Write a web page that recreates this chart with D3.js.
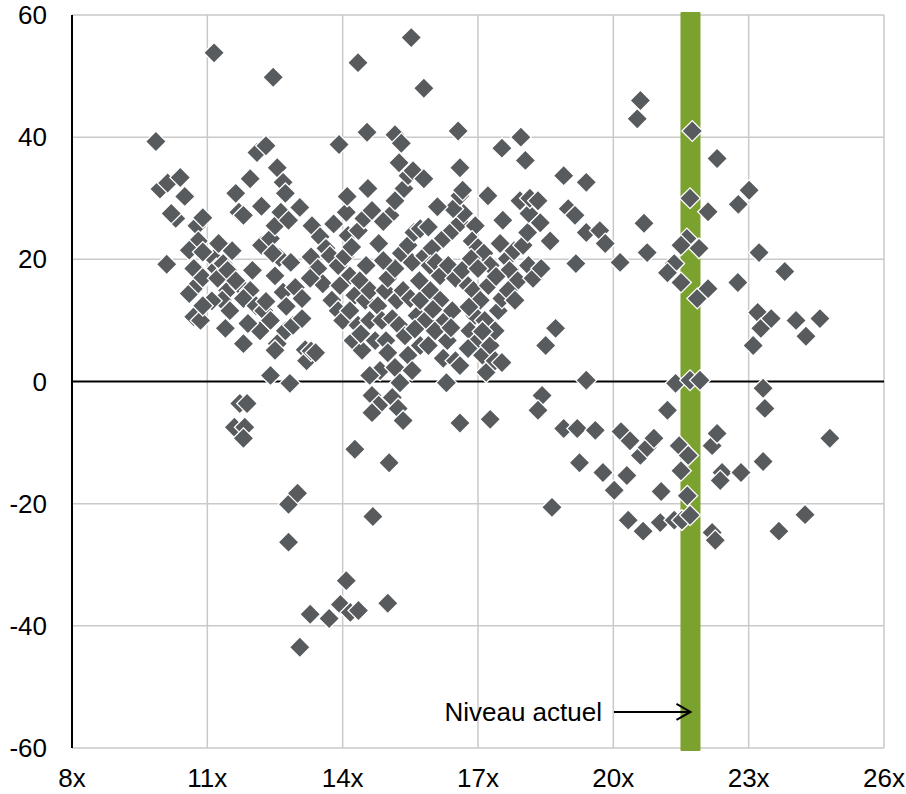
<!DOCTYPE html>
<html><head><meta charset="utf-8">
<script src="https://cdn.jsdelivr.net/npm/d3@7"></script>
<style>body{margin:0;background:#fff}svg text{font-family:"Liberation Sans",Arial,sans-serif;fill:#000}</style>
</head><body><div id="chart"></div>
<script>
// X: P/E multiple, Y: subsequent return (%)
const xTicks = [8, 11, 14, 17, 20, 23, 26];
const xTickLabels = ["8x", "11x", "14x", "17x", "20x", "23x", "26x"];
const yTicks = [-60, -40, -20, 0, 20, 40, 60];
const currentLevel = 21.71;
const annotationText = "Niveau actuel";

const points = [
[11.15,53.8],[12.46,49.8],[14.34,52.2],[15.52,56.3],[15.8,48],[9.86,39.3],[13.92,38.8],[16.56,41],
[14.54,40.8],[15.16,40.4],[12.28,38.6],[17.53,38.2],[17.95,40],[20.6,46],[20.53,43],[22.3,36.5],
[10.1,19.2],[9.95,31.5],[10.12,32.5],[10.4,33.4],[10.5,30.3],[10.3,26.7],[10.77,25.5],[10.9,26.8],
[10.8,23],[10.6,21.5],[10.7,18.5],[10.6,14.4],[10.8,16],[10.9,17],[10.7,10.6],[10.85,10],
[11.15,20.1],[11.2,18.5],[11.35,19.3],[11.23,16.9],[11.45,18.2],[11.45,14.9],[11.33,13.3],[11.5,11.6],
[11.4,8.7],[11.8,6.2],[11.7,27.7],[11.63,30.8],[11.95,33.2],[11.8,27.2],[11.72,15.7],[11.95,14.9],
[11.8,13.6],[11.63,16.5],[12.1,37.5],[12.3,38.6],[12.08,12.4],[12.17,8.3],[12,18.2],[12.2,22.3],
[12.4,23.4],[12.5,25.5],[12.55,35],[12.68,32.6],[12.73,30.8],[12.63,27.7],[12.8,26.4],[13.05,28.5],
[12.6,20.3],[12.85,19.5],[12.5,17.3],[12.68,14.6],[12.95,15.4],[12.25,11.6],[12.4,10],[12.55,6.2],
[12.5,5.1],[12.73,8.3],[12.9,9.2],[13.1,10.3],[12.4,1],[12.83,-0.3],[13.17,5.2],[13.2,3.4],
[13.3,5],[13.4,4.7],[11.72,-3.6],[11.88,-3.6],[11.6,-7.5],[11.83,-7.5],[11.8,-9.3],[12.8,-20.1],
[13.0,-18.3],[12.8,-26.3],[13.05,-43.5],[13.28,-38.1],[13.7,-38.8],[13.95,-36.5],[14.08,-32.6],[14.17,-37.8],
[14.35,-37.5],[14.27,-11.1],[14.67,-22.1],[15.0,-36.3],[15.03,-13.3],
[10.2,27.5],[10.9,21.2],[11.25,22.6],[11.55,21.4],[12.2,28.7],[12.45,21],[13.3,20.4],[13.1,13.6],
[12.3,13.1],[11.9,9.5],[12.75,12.3],[11.1,13.2],[10.9,12.4],
[13.32,25.5],[13.5,23.7],[13.63,21.8],[13.45,18.5],[13.56,16],[13.28,16.9],[13.72,20.6],[13.9,19],
[14.05,20.5],[14.16,17.3],[14.08,27.7],[14.12,23.9],[14.35,24.7],[14.47,26.7],[14.65,28],[14.56,31.6],
[15.05,27.2],[15.16,29.6],[15.36,31.6],[15.45,33.7],[15.25,35.8],[15.56,34.5],[15.8,33.2],[15.3,39],
[13.94,15.7],[13.76,13.3],[13.9,11.6],[14,10],[14.27,14.1],[14.16,11.6],[14.38,16.5],[14.52,19],
[14.5,13.3],[14.6,14.9],[14.34,9.2],[14.23,6.7],[14.43,5.1],[14.6,10],[14.72,6.7],[14.78,12.4],
[14.87,10],[14.94,14.9],[15,16.9],[15.16,18.5],[15.3,21],[15.45,22.3],[15.58,24.4],[15.72,25],
[15.54,19.5],[15.82,20.6],[15.98,21.8],[15.94,19],[16.07,19.5],[15.2,13.3],[15.34,14.9],[15.5,13.6],
[15.1,10.3],[15.25,9.2],[15.38,7.5],[14.96,6.7],[15,4.7],[14.83,1.8],[14.6,1],[15.16,2.3],
[15.45,4.3],[15.54,1.8],[15.27,-0.2],[14.65,-2.3],[14.8,-3.9],[14.65,-5.1],[15.1,-2.6],[15.23,-4.4],
[15.34,-6.4],[15.65,10.8],[15.72,13.3],[15.83,10],[15.94,14.9],[16.16,13.3],[16.05,8.3],[15.72,5.9],
[15.9,5.9],[16.27,10],[16.43,11.6],[16.32,6.7],[16.23,3.8],[16.5,3.4],[16.3,-0.2],[16.6,2.6],
[16.6,-6.8],[16.16,17.3],[16.34,19],[16.5,16.9],[16.65,18.2],[16.78,15.7],[16.23,23.4],[16.43,24.7],
[16.6,26],[16.68,27.5],[16.45,28.3],[16.6,30.4],[16.66,31.3],[16.6,35],[16.94,25.5],[16.87,23],
[17,21.9],[17.13,21],[17.27,19],[16.85,20.1],[17,18.5],[16.9,14.9],[17.05,13.3],[17.23,15.7],
[16.93,10.8],[17.15,10],[16.82,8.3],[17,6.7],[16.78,5.4],[17.1,4.3],[17.27,5.9],[17.38,8.3],
[17.45,11.6],[17.53,13.6],[17.18,1.5],[17.38,3.4],[17.27,-6.2],[17.22,30.4],[17.55,26.4],[17.49,22.6],
[17.65,20.1],[17.8,21.4],[17.7,18.2],[17.88,16.5],[17.67,14.9],[17.53,3.1],[17.82,13.3],[18,22.3],
[18.1,24.4],[18.13,27.5],[17.93,29.6],[18.15,30],[18.05,36.2],[18.33,29.6],[18.38,26],[18.12,19],
[18.22,16.9],[18.4,18.5],[18.6,23],[18.42,-2.3],[18.33,-4.7],[18.5,5.9],[18.72,8.7],[18.64,-20.6],
[13.8,25.8],[14.2,22],[14.8,22.6],[14.9,19.8],[15.7,16.5],[16.0,11.8],[16.8,12.2],[17.4,17.2],
[14.4,7.8],[15.6,8.6],[16.4,8.8],[17.1,8.2],[16.1,28.6],[15.9,25.3],[14.9,26.2],[14.1,30.3],
[18.9,33.7],[19,28.3],[19.15,27.2],[19.4,32.6],[19.4,24.4],[19.17,19.3],[19.7,24.7],[19.82,22.6],
[20.15,19.5],[19.4,0.2],[18.9,-7.7],[19.2,-7.7],[19.6,-8],[19.25,-13.3],[19.77,-14.9],[20.02,-17.8],
[20.17,-8.2],[20.37,-9.7],[20.3,-15.4],[20.6,-12.1],[20.75,-10.8],[20.33,-22.7],[20.66,-24.5],[21.04,-23.1],
[21.06,-18],[21.2,-4.7],[20.9,-9.3],[20.68,25.9],[20.75,21.1],[21.35,19.3],[21.2,17.8],[21.38,-0.3],
[21.35,-22.7],
[21.75,41],[21.7,30],[21.63,23.4],[21.5,22.3],[21.5,16.2],[21.9,21.8],[21.86,13.6],[22.1,15.2],
[22.1,27.8],[21.7,0.2],[21.92,0.2],[21.46,-10.5],[21.66,-12.1],[21.5,-14.6],[21.64,-18.7],[21.52,-22.7],
[21.7,-21.9],[22.19,-10.5],[22.3,-8.5],[22.41,-14.9],[22.37,-16.2],[22.19,-24.7],[22.26,-26],
[22.77,29],[23.01,31.3],[22.76,16.2],[22.83,-14.9],[23.1,5.9],[23.2,11.3],[23.27,8.7],[23.5,10.3],
[23.23,21.1],[23.32,-1.1],[23.36,-4.4],[23.32,-13.1],[23.67,-24.5],[23.8,18],[24.05,10],[24.27,7.4],
[24.25,-21.8],[24.58,10.3],[24.8,-9.3]
];

const W = 906, H = 794;
const margin = {left: 72, right: 22, top: 15, bottom: 46};
const svg = d3.select("#chart").append("svg").attr("width", W).attr("height", H);

const x = d3.scaleLinear().domain([8, 26]).range([margin.left, W - margin.right]);
const y = d3.scaleLinear().domain([-60, 60]).range([H - margin.bottom, margin.top]);

const grid = "#c9c9c9";
svg.append("g").selectAll("line").data(xTicks.slice(1)).join("line")
  .attr("x1", d => x(d)).attr("x2", d => x(d))
  .attr("y1", y(60)).attr("y2", y(-60))
  .attr("stroke", grid).attr("stroke-width", 1.5);
svg.append("g").selectAll("line").data(yTicks.filter(d => d !== 0)).join("line")
  .attr("x1", x(8)).attr("x2", x(26))
  .attr("y1", d => y(d)).attr("y2", d => y(d))
  .attr("stroke", grid).attr("stroke-width", 1.5);

svg.append("rect")
  .attr("x", x(currentLevel) - 10).attr("width", 20)
  .attr("y", y(60) - 3).attr("height", y(-60) - y(60) + 6)
  .attr("rx", 1)
  .attr("fill", "#7ba12f");

svg.append("line").attr("x1", x(8)).attr("x2", x(26)).attr("y1", y(0)).attr("y2", y(0))
  .attr("stroke", "#000").attr("stroke-width", 2);
svg.append("line").attr("x1", x(8)).attr("x2", x(8)).attr("y1", y(60)).attr("y2", y(-60))
  .attr("stroke", "#000").attr("stroke-width", 2);

const sym = d3.symbol().type(d3.symbolSquare).size(215);
svg.append("g").selectAll("path").data(points).join("path")
  .attr("d", sym)
  .attr("transform", d => `translate(${x(d[0])},${y(d[1])}) rotate(45)`)
  .attr("fill", "#585b5e")
  .attr("stroke", "#fff").attr("stroke-width", 1.3);

const fs = 26;
svg.append("g").selectAll("text").data(yTicks).join("text")
  .attr("x", 47).attr("y", d => y(d)).attr("dy", "0.35em")
  .attr("text-anchor", "end").attr("font-size", fs).text(d => d);
svg.append("g").selectAll("text").data(xTicks).join("text")
  .attr("x", d => x(d)).attr("y", 778).attr("dy", "0.35em")
  .attr("text-anchor", "middle").attr("font-size", fs).text((d, i) => xTickLabels[i]);

const ay = y(-54.1);
svg.append("text").attr("x", 602).attr("y", ay).attr("dy", "0.35em")
  .attr("text-anchor", "end").attr("font-size", fs).text(annotationText);
const ax2 = x(currentLevel);
svg.append("line").attr("x1", 614).attr("x2", ax2).attr("y1", ay).attr("y2", ay)
  .attr("stroke", "#000").attr("stroke-width", 2);
svg.append("path").attr("d", `M${ax2 - 14},${ay - 8}L${ax2},${ay}L${ax2 - 14},${ay + 8}`)
  .attr("fill", "none").attr("stroke", "#000").attr("stroke-width", 2);
</script></body></html>
